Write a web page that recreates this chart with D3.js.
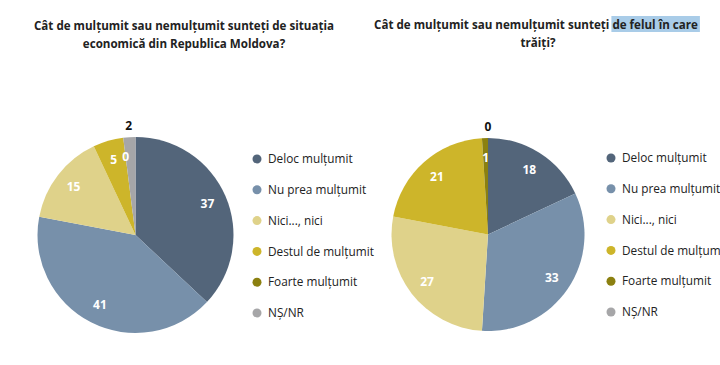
<!DOCTYPE html>
<html><head><meta charset="utf-8">
<script src="https://cdn.jsdelivr.net/npm/d3@7"></script>
<style>body{margin:0;background:#fff;} svg{display:block;} text{white-space:pre;}</style>
</head><body>
<svg id="c" width="720" height="365"></svg>
<script>
const categories = ["Deloc mulțumit","Nu prea mulțumit","Nici..., nici","Destul de mulțumit","Foarte mulțumit","NȘ/NR"];
const colors = ["#53657a","#7790aa","#dfd28a","#cdb52a","#8b8010","#a6a6a8"];
const economyValues = [37,41,15,5,0,2];
const livingValues = [18,33,27,21,1,0];
const title1 = ["Cât de mulțumit sau nemulțumit sunteți de situația","economică din Republica Moldova?"];
const title2a = "Cât de mulțumit sau nemulțumit sunteți ";
const title2b = "de felul în care";
const title2line2 = "trăiți?";

const svg = d3.select("#c");
const font = "'Open Sans', 'Liberation Sans', sans-serif";
const color = d3.scaleOrdinal().domain(categories).range(colors);

function drawPie(values, cx, cy, r, outsideIdx){
  const data = categories.map((c,i)=>({cat:c, v:values[i], i}));
  const pie = d3.pie().sort(null).value(d=>d.v);
  const arcs = pie(data);
  const arc = d3.arc().innerRadius(0).outerRadius(r);
  const lab = d3.arc().innerRadius(r*0.8).outerRadius(r*0.8);
  const out = d3.arc().innerRadius(r+11).outerRadius(r+11);
  const g = svg.append("g").attr("transform",`translate(${cx},${cy})`);
  g.selectAll("path").data(arcs).join("path")
    .attr("d",arc).attr("fill",d=>color(d.data.cat));
  g.selectAll("text").data(arcs).join("text")
    .attr("transform",d=>`translate(${(d.data.i===outsideIdx?out:lab).centroid(d)})`)
    .attr("text-anchor","middle").attr("dy","0.35em")
    .attr("font-family",font).attr("font-weight","bold").attr("font-size",12)
    .attr("fill",d=>d.data.i===outsideIdx?"#111":"#fff")
    .text(d=>d.data.v);
}

function drawLegend(x, y0){
  const y = d3.scalePoint().domain(categories).range([y0, y0+154]);
  const g = svg.append("g");
  const row = g.selectAll("g").data(categories).join("g")
    .attr("transform",d=>`translate(${x},${y(d)})`);
  row.append("circle").attr("r",4.5).attr("fill",d=>color(d));
  row.append("text").attr("x",11).attr("dy","0.35em")
    .attr("font-family",font).attr("font-size",11.8).attr("fill","#222").text(d=>d);
}

drawPie(economyValues, 135.5, 235, 98, 5);
drawPie(livingValues, 488, 234.5, 96.5, 5);
drawLegend(257, 159);
drawLegend(611, 158);

// titles
const tf = {"font-family":font,"font-weight":"bold","font-size":11.6,"fill":"#222"};
function applyAttrs(sel){ for(const k in tf) sel.attr(k,tf[k]); return sel; }
title1.forEach((t,i)=>{
  applyAttrs(svg.append("text")).attr("x",184).attr("y",30+i*18).attr("text-anchor","middle").text(t);
});
// right title with highlight
const hl = svg.append("rect").attr("fill","#a9cce8");
const ta = applyAttrs(svg.append("text")).attr("y",29).text(title2a);
const tb = applyAttrs(svg.append("text")).attr("y",29).text(title2b);
const wa = ta.node().getComputedTextLength(), wb = tb.node().getComputedTextLength();
const x0 = 536 - (wa+wb)/2;
ta.attr("x",x0); tb.attr("x",x0+wa);
hl.attr("x",x0+wa-1).attr("y",16).attr("width",wb+3).attr("height",16);
applyAttrs(svg.append("text")).attr("x",538).attr("y",47).attr("text-anchor","middle").text(title2line2);
</script>
</body></html>
